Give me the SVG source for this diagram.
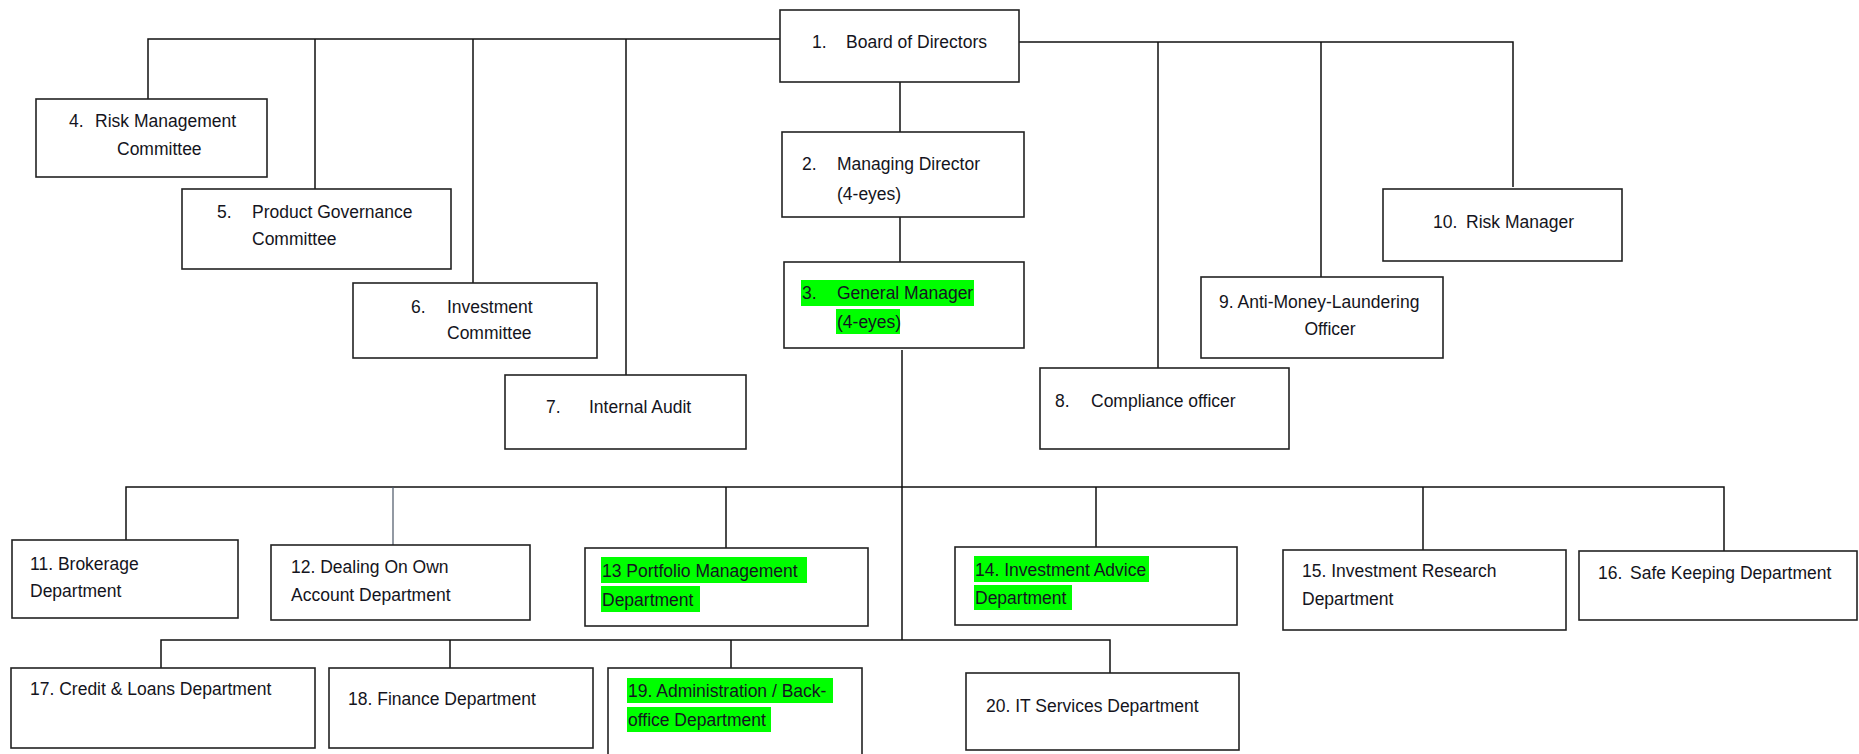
<svg xmlns="http://www.w3.org/2000/svg" width="1859" height="754" viewBox="0 0 1859 754">
<style>
.box{fill:#fff;stroke:#222;stroke-width:1.6}
.ln{fill:none;stroke:#111;stroke-width:1.5}
.ln2{fill:none;stroke:#4a5666;stroke-width:1.2}
text{font-family:"Liberation Sans",Arial,sans-serif;font-size:17.5px;fill:#141420}
.hl{fill:#00ff00}
</style>
<rect width="1859" height="754" fill="#fff"/>
<g id="connectors">
<path class="ln" d="M148 99V39H784M315 39V189M473 39V283M626 39V375"/>
<path class="ln" d="M1019 42H1513V187M1158 42V370M1321 42V277"/>
<path class="ln" d="M900 82V132M900 217V262M902 350V640"/>
<path class="ln" d="M126 540V487H1724V551M726 487V548M1096 487V547M1423 487V550"/>
<path class="ln2" d="M393 487V545"/>
<path class="ln" d="M161 668V640H1110V673M450 640V668M731 640V668"/>
</g>
<g id="n1"><rect class="box" x="780" y="10" width="239" height="72"/><text x="812" y="48">1.</text><text x="846" y="48">Board of Directors</text></g>
<g id="n2"><rect class="box" x="782" y="132" width="242" height="85"/><text x="802" y="170">2.</text><text x="837" y="170">Managing Director</text><text x="837" y="200">(4-eyes)</text></g>
<g id="n3"><rect class="box" x="784" y="262" width="240" height="86"/><rect class="hl" x="801" y="280" width="173" height="26"/><rect class="hl" x="836" y="309" width="64" height="25"/><text x="802" y="299">3.</text><text x="837" y="299">General Manager</text><text x="837" y="328">(4-eyes)</text></g>
<g id="n4"><rect class="box" x="36" y="99" width="231" height="78"/><text x="69" y="127">4.</text><text x="95" y="127">Risk Management</text><text x="117" y="155">Committee</text></g>
<g id="n5"><rect class="box" x="182" y="189" width="269" height="80"/><text x="217" y="218">5.</text><text x="252" y="218">Product Governance</text><text x="252" y="245">Committee</text></g>
<g id="n6"><rect class="box" x="353" y="283" width="244" height="75"/><text x="411" y="313">6.</text><text x="447" y="313">Investment</text><text x="447" y="339">Committee</text></g>
<g id="n7"><rect class="box" x="505" y="375" width="241" height="74"/><text x="546" y="413">7.</text><text x="589" y="413">Internal Audit</text></g>
<g id="n8"><rect class="box" x="1040" y="368" width="249" height="81"/><text x="1055" y="407">8.</text><text x="1091" y="407">Compliance officer</text></g>
<g id="n9"><rect class="box" x="1201" y="277" width="242" height="81"/><text x="1219" y="308">9. Anti-Money-Laundering</text><text x="1330" y="335" text-anchor="middle">Officer</text></g>
<g id="n10"><rect class="box" x="1383" y="189" width="239" height="72"/><text x="1433" y="228">10.</text><text x="1466" y="228">Risk Manager</text></g>
<g id="n11"><rect class="box" x="12" y="540" width="226" height="78"/><text x="30" y="570">11. Brokerage</text><text x="30" y="597">Department</text></g>
<g id="n12"><rect class="box" x="271" y="545" width="259" height="75"/><text x="291" y="573">12. Dealing On Own</text><text x="291" y="601">Account Department</text></g>
<g id="n13"><rect class="box" x="585" y="548" width="283" height="78"/><rect class="hl" x="601" y="557" width="206" height="26"/><rect class="hl" x="601" y="586" width="99" height="26"/><text x="602" y="577">13 Portfolio Management</text><text x="602" y="606">Department</text></g>
<g id="n14"><rect class="box" x="955" y="547" width="282" height="78"/><rect class="hl" x="974" y="556" width="175" height="26"/><rect class="hl" x="974" y="585" width="98" height="25"/><text x="975" y="576">14. Investment Advice</text><text x="975" y="604">Department</text></g>
<g id="n15"><rect class="box" x="1283" y="550" width="283" height="80"/><text x="1302" y="577">15. Investment Research</text><text x="1302" y="605">Department</text></g>
<g id="n16"><rect class="box" x="1579" y="551" width="278" height="69"/><text x="1598" y="579">16.</text><text x="1630" y="579">Safe Keeping Department</text></g>
<g id="n17"><rect class="box" x="11" y="668" width="304" height="80"/><text x="30" y="695">17. Credit &amp; Loans Department</text></g>
<g id="n18"><rect class="box" x="329" y="668" width="264" height="80"/><text x="348" y="705">18. Finance Department</text></g>
<g id="n19"><rect class="box" x="608" y="668" width="254" height="100"/><rect class="hl" x="627" y="678" width="206" height="25"/><rect class="hl" x="627" y="707" width="144" height="25"/><text x="628" y="697">19. Administration / Back-</text><text x="628" y="726">office Department</text></g>
<g id="n20"><rect class="box" x="966" y="673" width="273" height="77"/><text x="986" y="712">20. IT Services Department</text></g>
</svg>
